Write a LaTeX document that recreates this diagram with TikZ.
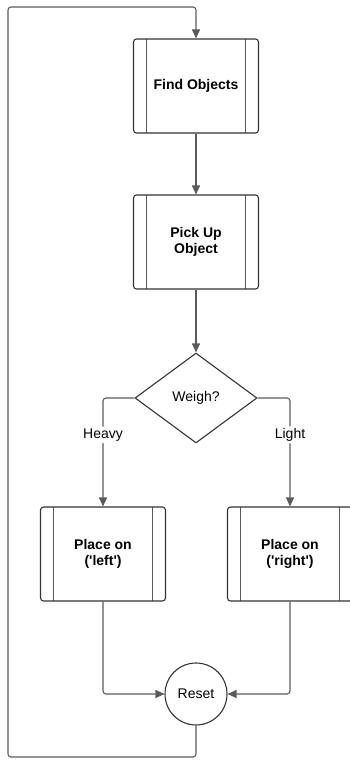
\documentclass[tikz,border=0pt]{standalone}
\usepackage{fontspec}
\setmainfont{Liberation Sans}
\usetikzlibrary{shapes.geometric,arrows.meta}
\definecolor{edgegray}{HTML}{5A5A5A}
\definecolor{boxline}{HTML}{333333}
\tikzset{
	procbox/.style={draw=boxline, line width=1.1pt, rounded corners=3pt,
		minimum width=125pt, minimum height=94pt, align=center,
		font=\bfseries\fontsize{14}{16.5}\selectfont,
		path picture={
			\draw[edgegray, line width=0.9pt] ([xshift=13pt]path picture bounding box.north west) -- ([xshift=13pt]path picture bounding box.south west);
			\draw[edgegray, line width=0.9pt] ([xshift=-13pt]path picture bounding box.north east) -- ([xshift=-13pt]path picture bounding box.south east);
		}},
	decide/.style={draw=boxline, line width=1.1pt, diamond, inner sep=0pt,
		minimum width=122pt, minimum height=90pt, font=\fontsize{14}{16}\selectfont},
	endnode/.style={draw=boxline, line width=1.1pt, circle, minimum size=62pt,
		inner sep=0pt, font=\fontsize{14}{16}\selectfont},
	flow/.style={draw=edgegray, line width=1.1pt, rounded corners=3pt,
		-{Triangle[length=9pt,width=8pt]}},
	tag/.style={fill=white, inner sep=2pt, font=\fontsize{14}{16}\selectfont}
}
\begin{document}
\begin{tikzpicture}[x=1pt,y=-1pt, line join=round]
	\useasboundingbox (0,0) rectangle (350,760);
	% steps
	\node[procbox] (find) at (196,86) {Find Objects};
	\node[procbox] (pick) at (196,242) {Pick Up\\Object};
	\node[decide] (weigh) at (196,398) {Weigh?};
	\node[procbox] (left) at (103,554) {Place on\\(\textquotesingle left\textquotesingle)};
	\node[procbox] (right) at (290,554) {Place on\\(\textquotesingle right\textquotesingle)};
	\node[endnode] (reset) at (196,694) {Reset};
	\coordinate (loopbl) at (8,757);
	\coordinate (looptl) at (8,7);
	% arrows
	\draw[flow] (find) -- (pick);
	\draw[flow] (pick) -- (weigh);
	\draw[flow] (weigh.west) -| node[tag, pos=0.67] {Heavy} (left.north);
	\draw[flow] (weigh.east) -| node[tag, pos=0.67] {Light} (right.north);
	\draw[flow] (left.south) |- (reset.west);
	\draw[flow] (right.south) |- (reset.east);
	\draw[flow] (reset.south) |- (loopbl) -- (looptl) -| (find.north);
\end{tikzpicture}
\end{document}
